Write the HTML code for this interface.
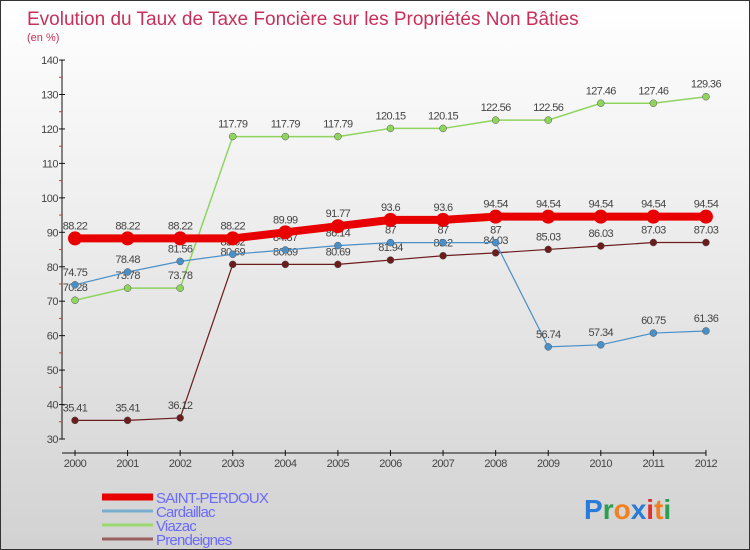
<!DOCTYPE html>
<html><head><meta charset="utf-8"><style>
body{margin:0;}
#wrap{width:748px;height:548px;border:1px solid #333;background:linear-gradient(#ffffff,#f2f2f2 30%,#d2d2d2);position:relative;overflow:hidden;font-family:"Liberation Sans",sans-serif;}
svg text{font-family:"Liberation Sans",sans-serif;}
</style></head><body>
<div id="wrap">
<svg id="chart" width="748" height="548">
<text x="26" y="24" font-size="19" fill="#c8305a">Evolution du Taux de Taxe Foncière sur les Propriétés Non Bâties</text>
<text x="26" y="40" font-size="11" fill="#c8305a">(en %)</text>
</svg>
</div>
<script>
const years=["2000","2001","2002","2003","2004","2005","2006","2007","2008","2009","2010","2011","2012"];
const yTicks=[30,40,50,60,70,80,90,100,110,120,130,140];
const saint=[88.22,88.22,88.22,88.22,89.99,91.77,93.6,93.6,94.54,94.54,94.54,94.54,94.54];
const cardaillac=[74.75,78.48,81.56,83.62,84.87,86.14,87,87,87,56.74,57.34,60.75,61.36];
const viazac=[70.28,73.78,73.78,117.79,117.79,117.79,120.15,120.15,122.56,122.56,127.46,127.46,129.36];
const prendeignes=[35.41,35.41,36.12,80.69,80.69,80.69,81.94,83.2,84.03,85.03,86.03,87.03,87.03];
const svg=document.getElementById('chart');const NS="http://www.w3.org/2000/svg";
function X(i){return 74+i*52.58;}
function Y(v){return 438-(v-30)*3.445;}
function mk(t,a,p){const e=document.createElementNS(NS,t);for(const k in a)e.setAttribute(k,a[k]);(p||svg).appendChild(e);return e;}
let e=mk('line',{x1:61,y1:Y(140),x2:61,y2:Y(30),stroke:'#111'});


e=mk('line',{x1:61,y1:452,x2:X(12),y2:452,stroke:'#111'});


yTicks.forEach(v=>{mk('line',{x1:58,x2:64,y1:Y(v),y2:Y(v),stroke:'#111'});
 if(v<140)mk('line',{x1:58,x2:61,y1:Y(v+5),y2:Y(v+5),stroke:'#e03030'});
 const t=mk('text',{x:57,y:Y(v)+4,'font-size':11,'text-anchor':'end',fill:'#444','letter-spacing':'-0.5'});t.textContent=v;
 
 });
years.forEach((y,i)=>{mk('line',{x1:X(i),x2:X(i),y1:449,y2:455,stroke:'#111'});
 const t=mk('text',{x:X(i),y:466,'font-size':11,'text-anchor':'middle',fill:'#444','letter-spacing':'-0.5'});t.textContent=y;
 
 });
function series(d,color,w,r,name){
 const g=mk('g',{});
 
 
 mk('polyline',{points:d.map((v,i)=>X(i)+','+Y(v)).join(' '),fill:'none',stroke:color,'stroke-width':w},g);
 d.forEach((v,i)=>{const c=mk('circle',{cx:X(i),cy:Y(v),r:r,fill:color,stroke:'#555','stroke-width':r>5?0:0.5},g);
  
  
  const t=mk('text',{x:X(i),y:Y(v)-9,'font-size':11,'text-anchor':'middle',fill:'#444','letter-spacing':'-0.6'},g);t.textContent=v;
  
  });
}
series(prendeignes,'#6b1c1c',1.2,3.5,'prendeignes');
series(viazac,'#8fd45f',1.5,3.5,'viazac');
series(cardaillac,'#4a90c8',1.2,3.5,'cardaillac');
series(saint,'#e80000',8,7,'saint-perdoux');
const leg=[['SAINT-PERDOUX','#e80000',7],['Cardaillac','#7aaed0',3],['Viazac','#9ad870',3],['Prendeignes','#9a6060',3]];
leg.forEach((l,i)=>{const y=496+i*14;
 const g=mk('g',{});
 
 
 mk('line',{x1:101,x2:152,y1:y,y2:y,stroke:l[1],'stroke-width':l[2]},g);
 const t=mk('text',{x:155,y:y+6,'font-size':15,fill:'#6a6aff','letter-spacing':'-0.8'},g);t.textContent=l[0];});
const lg=mk('text',{x:583,y:518,'font-size':28,'font-weight':'bold'});


[['P','#2a7ad8'],['r','#2aa050'],['o','#f08020'],['x','#2a7ad8'],['i','#e03030'],['t','#f08020'],['i','#2aa050']].forEach(c=>{const s=mk('tspan',{fill:c[1]},lg);s.textContent=c[0];});
</script>
</body></html>
